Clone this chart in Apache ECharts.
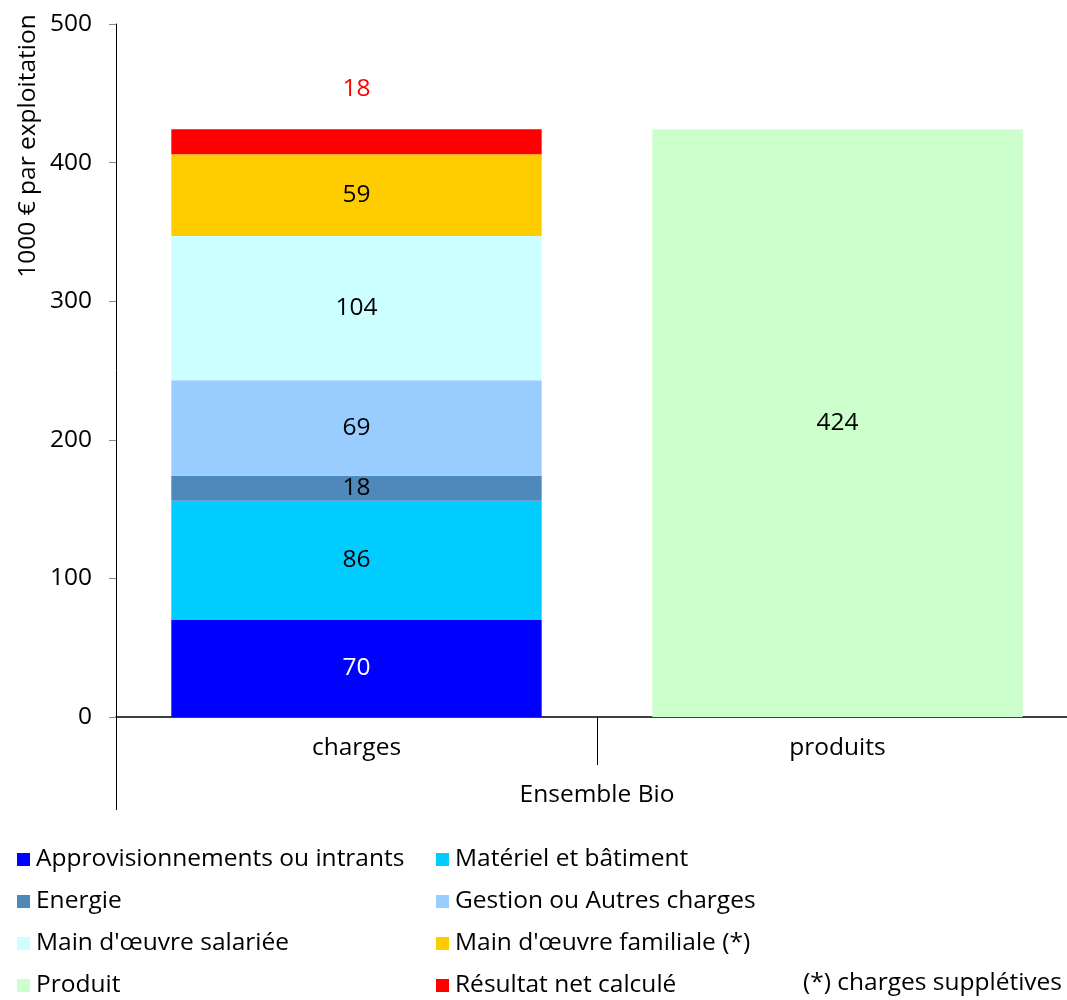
<!DOCTYPE html>
<html>
<head>
<meta charset="utf-8">
<style>
    html, body { margin: 0; padding: 0; background: #fff; overflow: hidden; }
    #chart { width: 1078px; height: 1000px; }
</style>
</head>
<body>
<div id="chart"></div>
<script src="https://cdn.jsdelivr.net/npm/echarts@6/dist/echarts.min.js"></script>
<script type="text/javascript">

    var categories = ['charges', 'produits'];
    var groupName = 'Ensemble Bio';
    var yTicks = [0, 100, 200, 300, 400, 500];

    var seriesNames = [
        'Approvisionnements ou intrants',
        'Matériel et bâtiment',
        'Energie',
        'Gestion ou Autres charges',
        "Main d'œuvre salariée",
        "Main d'œuvre familiale (*)",
        'Produit',
        'Résultat net calculé'
    ];
    var chargesValues = [70, 86, 18, 69, 104, 59, 18];
    var chargesNames = [
        'Approvisionnements ou intrants',
        'Matériel et bâtiment',
        'Energie',
        'Gestion ou Autres charges',
        "Main d'œuvre salariée",
        "Main d'œuvre familiale (*)",
        'Résultat net calculé'
    ];
    var produitValue = 424;

    var colors = {
        'Approvisionnements ou intrants': '#0000ff',
        'Matériel et bâtiment': '#00ccff',
        'Energie': '#4f88bb',
        'Gestion ou Autres charges': '#99ccff',
        "Main d'œuvre salariée": '#ccffff',
        "Main d'œuvre familiale (*)": '#ffcc00',
        'Produit': '#ccffcc',
        'Résultat net calculé': '#ff0000'
    };

    var FONT = 'Open Sans';
    var FS = 24.5;

    var series = [];
    chargesNames.forEach(function (name, i) {
        var isTop = name === 'Résultat net calculé';
        series.push({
            name: name,
            type: 'bar',
            stack: 'total',
            barWidth: '77%',
            itemStyle: { color: colors[name] },
            data: [chargesValues[i], '-'],
            label: {
                show: true,
                position: isTop ? 'top' : 'inside',
                distance: 28,
                fontFamily: FONT,
                fontSize: FS,
                color: isTop ? '#ff0000' : (i === 0 ? '#ffffff' : '#000000')
            }
        });
    });
    series.push({
        name: 'Produit',
        type: 'bar',
        stack: 'total',
        barWidth: '77%',
        itemStyle: { color: colors['Produit'] },
        data: ['-', produitValue],
        label: { show: true, position: 'inside', fontFamily: FONT, fontSize: FS, color: '#000' }
    });

    var legendStyle = { fontFamily: FONT, fontSize: FS, color: '#000', padding: [0, 0, 0, 1] };

    var chart = echarts.init(document.getElementById('chart'));
    chart.setOption({
        animation: false,
        textStyle: { fontFamily: FONT },
        grid: { left: 116, right: 0, top: 24, bottom: 283, containLabel: false },
        legend: [
            {
                orient: 'vertical', left: 17, top: 847, padding: 0,
                itemWidth: 13, itemHeight: 13, itemGap: 17,
                icon: 'rect', textStyle: legendStyle,
                data: [seriesNames[0], seriesNames[2], seriesNames[4], seriesNames[6]]
            },
            {
                orient: 'vertical', left: 436, top: 847, padding: 0,
                itemWidth: 13, itemHeight: 13, itemGap: 17,
                icon: 'rect', textStyle: legendStyle,
                data: [seriesNames[1], seriesNames[3], seriesNames[5], seriesNames[7]]
            }
        ],
        xAxis: [
            {
                type: 'category',
                data: categories,
                axisLine: { lineStyle: { color: '#000', width: 1.5 } },
                axisTick: { show: true, length: 48, lineStyle: { color: '#000' } },
                axisLabel: { margin: 19, fontFamily: FONT, fontSize: FS, color: '#000' }
            },
            {
                type: 'category',
                position: 'bottom',
                data: [groupName],
                axisLine: { show: false },
                axisTick: { show: true, length: 93, lineStyle: { color: '#000' } },
                axisLabel: { margin: 66, fontFamily: FONT, fontSize: FS, color: '#000' }
            }
        ],
        yAxis: {
            type: 'value',
            min: yTicks[0],
            max: yTicks[yTicks.length - 1],
            interval: 100,
            splitLine: { show: false },
            axisLine: { show: true, lineStyle: { color: '#000' } },
            axisTick: { show: true, length: 7, lineStyle: { color: '#888' } },
            axisLabel: { margin: 24, fontFamily: FONT, fontSize: FS, color: '#000' }
        },
        graphic: [
            {
                type: 'text', x: 28, y: 146, rotation: Math.PI / 2,
                style: { text: '1000 € par exploitation', font: FS + 'px "Open Sans"', fill: '#000', align: 'center', verticalAlign: 'middle' }
            },
            {
                type: 'text', x: 1062, y: 983,
                style: { text: '(*) charges supplétives', font: FS + 'px "Open Sans"', fill: '#000', align: 'right', verticalAlign: 'middle' }
            }
        ],
        series: series
    });
</script>
</body>
</html>
